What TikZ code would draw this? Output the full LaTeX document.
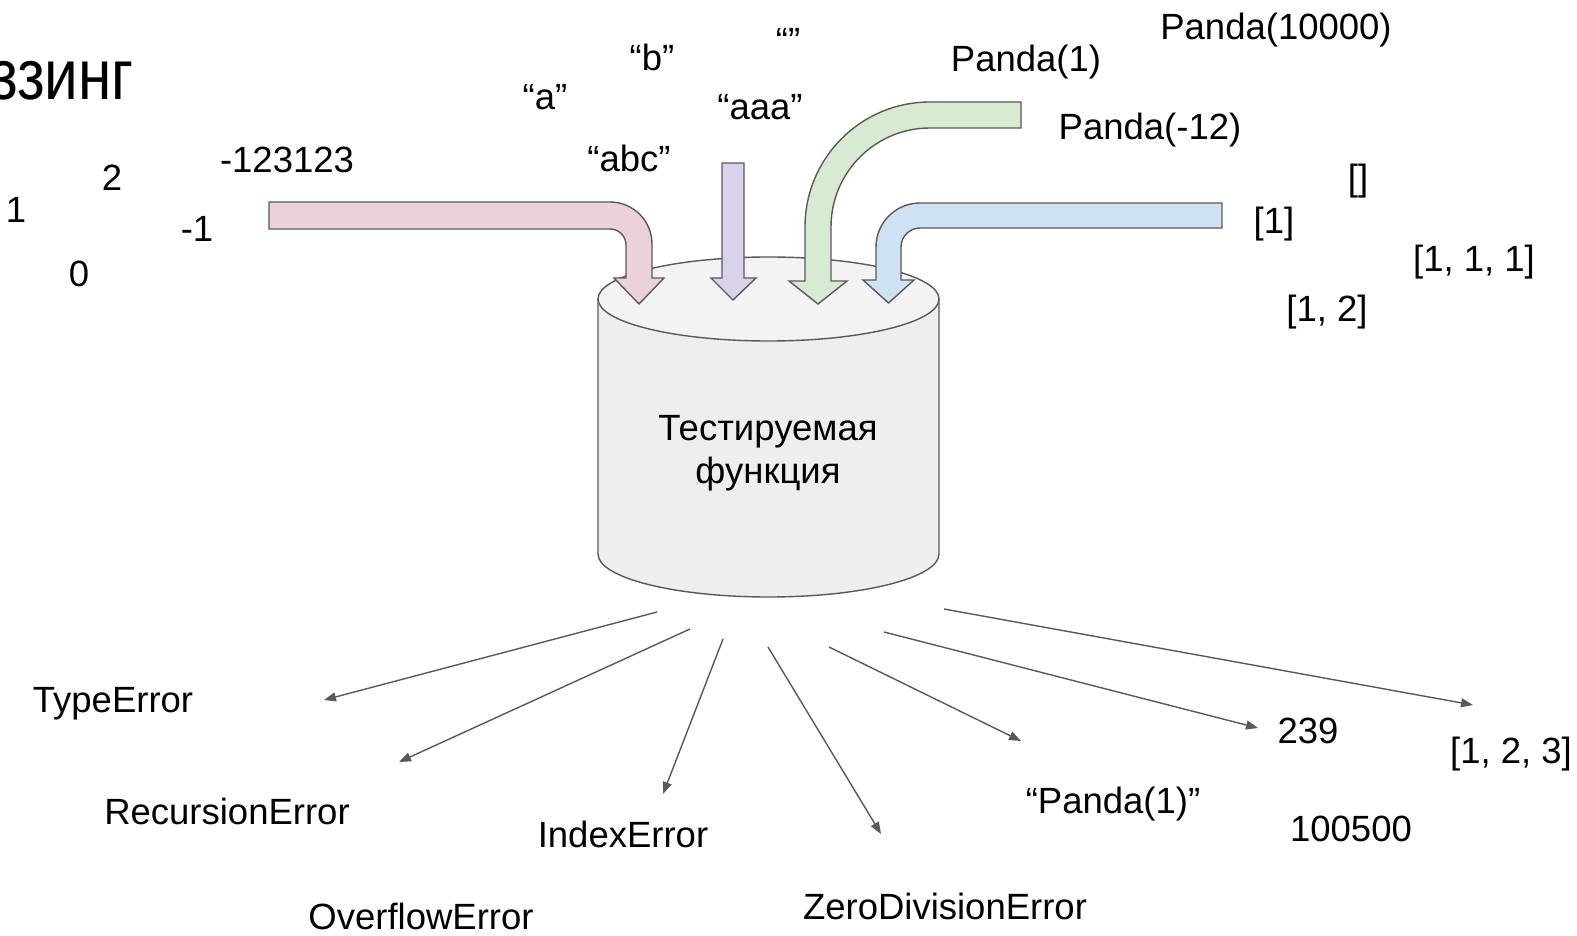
\documentclass[tikz,border=0pt]{standalone}
\usepackage{fontspec}
\setmainfont{Liberation Sans}
\usetikzlibrary{arrows.meta}

\definecolor{edge}{HTML}{595959}
\definecolor{pinkfill}{HTML}{EAD1DC}
\definecolor{lilacfill}{HTML}{D9D2E9}
\definecolor{greenfill}{HTML}{D9EAD3}
\definecolor{bluefill}{HTML}{CFE2F3}
\definecolor{cyltop}{HTML}{F3F3F3}
\definecolor{cylbody}{HTML}{EEEEEE}

\begin{document}
\begin{tikzpicture}[x=1pt, y=-1pt,
  txt/.style={font=\fontsize{36.5}{42}\selectfont, inner sep=0pt, anchor=base},
  title/.style={font=\fontsize{71}{80}\selectfont, inner sep=0pt, anchor=base east},
  bigarrow/.style={draw=edge, line width=1.4pt, line join=miter},
  outflow/.style={draw=edge, line width=1.4pt, -{Triangle[length=12pt,width=9pt]}},
  cylline/.style={draw=edge, line width=1.4pt}]

\useasboundingbox (0,0) rectangle (1577,936);
\clip (0,0) rectangle (1577,936);

% title, partly off the left edge
\node[title] (ttl) at (134,100) {\scalebox{0.85}[1]{ззинг}};

% integer inputs
\node[txt] (n1)   at (16,223)  {1};
\node[txt] (n2)   at (112,191) {2};
\node[txt] (n0)   at (79,287)  {0};
\node[txt] (nm1)  at (197,242) {-1};
\node[txt] (nbig) at (287,173) {-123123};

% string inputs
\node[txt] (sa)   at (545,110) {“a”};
\node[txt] (sb)   at (652,71)  {“b”};
\node[txt] (se)   at (788,54)  {“”};
\node[txt] (saaa) at (760,120) {“aaa”};
\node[txt] (sabc) at (629,172) {“abc”};

% object inputs
\node[txt] (p1)   at (1026,72)  {Panda(1)};
\node[txt] (p10k) at (1276,40)  {Panda(10000)};
\node[txt] (pm12) at (1150,140) {Panda(-12)};

% list inputs
\node[txt] (l0)   at (1358,191) {[]};
\node[txt] (l1)   at (1274,234) {[1]};
\node[txt] (l111) at (1474,271) {[1, 1, 1]};
\node[txt] (l12)  at (1327,321) {[1, 2]};

% the function under test: a cylinder
\path[cylline, fill=cylbody] (598,299) -- (598,554)
  arc[start angle=180, end angle=0, x radius=170.5, y radius=43]
  -- (939,299) -- cycle;
\path[cylline, fill=cyltop] (768.5,299) ellipse[x radius=170.5, y radius=42];
\node[font=\fontsize{36.5}{43}\selectfont, align=center, inner sep=0pt] (fn) at (768,453)
  {Тестируемая\\функция};

% input arrows into the cylinder
\path[bigarrow, fill=pinkfill] (269,202) -- (610,202)
  arc[start angle=-90, end angle=0, radius=42]
  -- (652,278) -- (664,278) -- (639,304) -- (614,278) -- (626,278) -- (626,245)
  arc[start angle=0, end angle=-90, radius=16]
  -- (269,229) -- cycle;

\path[bigarrow, fill=lilacfill] (722,163) -- (744,163) -- (744,278) -- (756,278)
  -- (733,300) -- (711,278) -- (722,278) -- cycle;

\path[bigarrow, fill=greenfill] (1021,102) -- (930,102)
  arc[start angle=-90, end angle=-180, radius=125]
  -- (805,281) -- (789,281) -- (818,304) -- (847,281) -- (831,281) -- (831,227)
  arc[start angle=180, end angle=270, radius=99]
  -- (1021,128) -- cycle;

\path[bigarrow, fill=bluefill] (1222,203) -- (920,203)
  arc[start angle=-90, end angle=-180, radius=44]
  -- (876,280) -- (863,280) -- (888.5,303) -- (914,280) -- (901,280) -- (901,247)
  arc[start angle=180, end angle=270, radius=19]
  -- (1222,228) -- cycle;

% outcomes
\node[txt] (oType)  at (113,712) {TypeError};
\node[txt] (oRec)   at (227,824) {RecursionError};
\node[txt] (oIdx)   at (623,847) {IndexError};
\node[txt] (oOvf)   at (421,929) {OverflowError};
\node[txt] (oZero)  at (945,919) {ZeroDivisionError};
\node[txt] (oStr)   at (1113,813) {“Panda(1)”};
\node[txt] (o239)   at (1308,743) {239};
\node[txt] (oList)  at (1511,763) {[1, 2, 3]};
\node[txt] (oNum)   at (1351,841) {100500};

% outflow connectors
\coordinate (s1) at (657,612);  \coordinate (t1) at (324,700);
\coordinate (s2) at (690,629);  \coordinate (t2) at (399,762);
\coordinate (s3) at (723,639);  \coordinate (t3) at (663,794);
\coordinate (s4) at (768,647);  \coordinate (t4) at (881,834);
\coordinate (s5) at (829,647);  \coordinate (t5) at (1021,741);
\coordinate (s6) at (884,632);  \coordinate (t6) at (1258,728);
\coordinate (s7) at (944,609);  \coordinate (t7) at (1473,705);
\foreach \i in {1,...,7} { \draw[outflow] (s\i) -- (t\i); }

\end{tikzpicture}
\end{document}
